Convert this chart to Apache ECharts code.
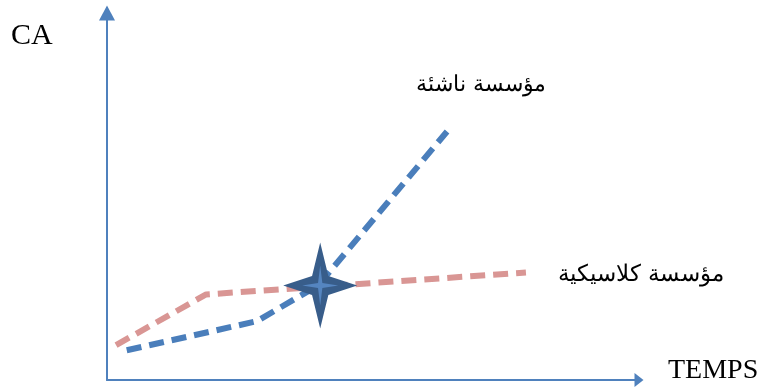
<!DOCTYPE html>
<html><head><meta charset="utf-8">
<script src="https://cdn.jsdelivr.net/npm/echarts@6/dist/echarts.min.js"></script>
<style>html,body{margin:0;padding:0;background:#fff}#c{width:769px;height:389px}</style>
</head><body><div id="c"></div>
<script>
// Data (arbitrary units: time 0..100, turnover 0..100)
const startupSeries = [[3.7, 8.0], [28.1, 15.8], [39.6, 25.4], [63.8, 66.8]];
const classicSeries = [[1.7, 9.4], [18.6, 23.0], [78.6, 28.9]];
const crossPoint = [[40.0, 25.4]];
const labelStartup = 'مؤسسة ناشئة';
const labelClassic = 'مؤسسة كلاسيكية';
const axisNameY = 'CA';
const axisNameX = 'TEMPS';

const chart = echarts.init(document.getElementById('c'));
const starPath = 'path://M0,-100 L22,-22 L100,0 L22,22 L0,100 L-22,22 L-100,0 L-22,-22 Z';
const innerStar = 'path://M0,-100 L12,-12 L100,0 L12,12 L0,100 L-12,12 L-100,0 L-12,-12 Z';
chart.setOption({
  animation: false,
  grid: {left: 107, right: 129, top: 8, bottom: 9},
  xAxis: {type: 'value', min: 0, max: 100,
    axisLine: {show: true, onZero: false, symbol: ['none', 'triangle'], symbolSize: [14, 9], symbolOffset: [0, -1], lineStyle: {color: '#4f81bd', width: 2}},
    axisTick: {show: false}, axisLabel: {show: false}, splitLine: {show: false}},
  yAxis: {type: 'value', min: 0, max: 100,
    axisLine: {show: true, onZero: false, symbol: ['none', 'triangle'], symbolSize: [16, 15], symbolOffset: [0, -5], lineStyle: {color: '#4f81bd', width: 2}},
    axisTick: {show: false}, axisLabel: {show: false}, splitLine: {show: false}},
  series: [
    {type: 'line', data: classicSeries, symbol: 'none', z: 2,
      lineStyle: {color: '#d99694', width: 6, type: [15, 8]}},
    {type: 'line', data: startupSeries, symbol: 'none', z: 3,
      lineStyle: {color: '#4a7ebb', width: 6, type: [15, 8]}},
    {type: 'scatter', data: crossPoint, symbol: starPath, symbolSize: [74, 86], z: 5,
      itemStyle: {color: '#385d8a', opacity: 1}},
    {type: 'scatter', data: crossPoint, symbol: innerStar, symbolSize: [36, 40], z: 6,
      itemStyle: {color: '#5585c0', opacity: 1}}
  ],
  graphic: [
    {type: 'text', left: 11, top: 21, style: {text: axisNameY, fontSize: 30, fontFamily: 'Liberation Serif', fill: '#000'}},
    {type: 'text', left: 668, top: 357, style: {text: axisNameX, fontSize: 28, fontFamily: 'Liberation Serif', fill: '#000'}},
    {type: 'text', left: 416, top: 74, style: {text: labelStartup, fontSize: 22, fontFamily: 'DejaVu Serif', fill: '#000'}},
    {type: 'text', left: 558, top: 264, style: {text: labelClassic, fontSize: 23, fontFamily: 'DejaVu Serif', fill: '#000'}}
  ]
});
</script></body></html>
